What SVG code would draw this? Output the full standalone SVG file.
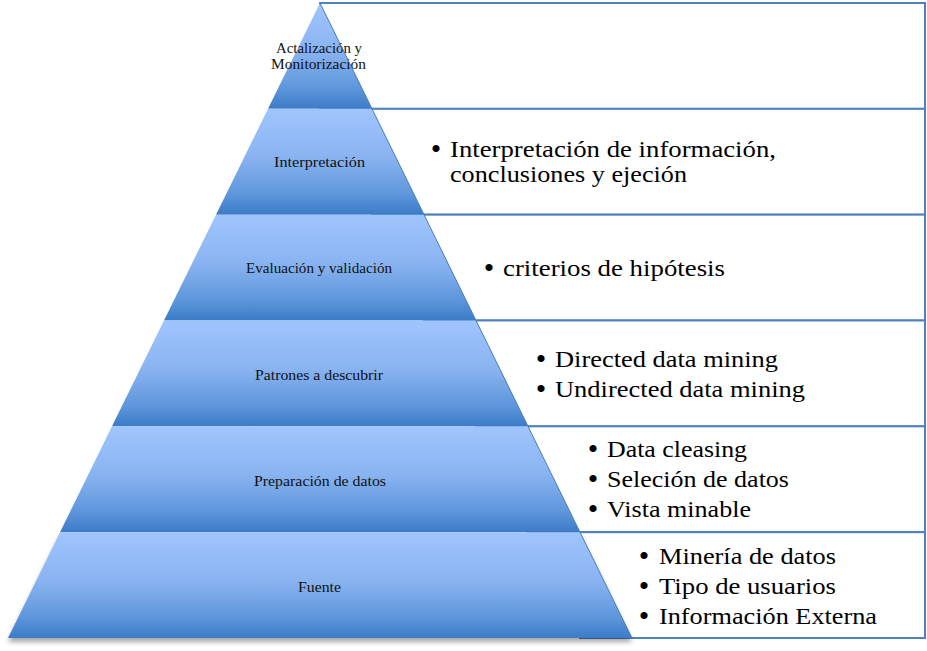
<svg xmlns="http://www.w3.org/2000/svg" width="927" height="651" viewBox="0 0 927 651">
<style>
.box{fill:#fff;stroke:#4f81bd;stroke-width:2}
.band{fill:url(#g)}
.lbl{font-family:"Liberation Serif","DejaVu Serif",serif;font-size:15px;fill:#111}
.txt{font-family:"Liberation Serif","DejaVu Serif",serif;font-size:22.5px;fill:#000}
.bul{font-family:"Liberation Serif","DejaVu Serif",serif;font-size:30px;fill:#000;text-anchor:middle}
</style>
<defs>
<linearGradient id="g" x1="0" y1="0" x2="0" y2="1">
<stop offset="0" stop-color="#a0c5fe"/>
<stop offset="0.45" stop-color="#8ab4f1"/>
<stop offset="0.8" stop-color="#5f97dc"/>
<stop offset="1" stop-color="#3b7bc7"/>
</linearGradient>
<filter id="sh" x="-10%" y="-10%" width="120%" height="130%">
<feDropShadow dx="0" dy="4" stdDeviation="2.5" flood-color="#000" flood-opacity="0.35"/>
</filter>
</defs>
<g id="n1">
<rect class="box" x="320" y="3" width="605" height="105.83"/>
<polygon class="band" points="320,3 372,108.83 268,108.83"/>
<text class="lbl" x="276" y="53" textLength="86" lengthAdjust="spacingAndGlyphs">Actalización y</text>
<text class="lbl" x="271" y="69" textLength="95" lengthAdjust="spacingAndGlyphs">Monitorización</text>
</g>
<g id="n2">
<rect class="box" x="372" y="108.83" width="553" height="105.83"/>
<polygon class="band" points="268,108.83 372,108.83 424,214.67 216,214.67"/>
<text class="lbl" x="274" y="167" textLength="91" lengthAdjust="spacingAndGlyphs">Interpretación</text>
<text class="bul" x="436" y="159">•</text>
<text class="txt" x="450" y="157" textLength="326" lengthAdjust="spacingAndGlyphs">Interpretación de información,</text>
<text class="txt" x="450" y="182" textLength="237" lengthAdjust="spacingAndGlyphs">conclusiones y ejeción</text>
</g>
<g id="n3">
<rect class="box" x="424" y="214.67" width="501" height="105.83"/>
<polygon class="band" points="216,214.67 424,214.67 476,320.5 164,320.5"/>
<text class="lbl" x="246" y="273" textLength="146" lengthAdjust="spacingAndGlyphs">Evaluación y validación</text>
<text class="bul" x="489" y="278">•</text>
<text class="txt" x="503" y="276" textLength="222" lengthAdjust="spacingAndGlyphs">criterios de hipótesis</text>
</g>
<g id="n4">
<rect class="box" x="476" y="320.5" width="449" height="105.83"/>
<polygon class="band" points="164,320.5 476,320.5 528,426.33 112,426.33"/>
<text class="lbl" x="255" y="380" textLength="128" lengthAdjust="spacingAndGlyphs">Patrones a descubrir</text>
<text class="bul" x="541" y="369">•</text>
<text class="txt" x="555" y="367" textLength="223" lengthAdjust="spacingAndGlyphs">Directed data mining</text>
<text class="bul" x="541" y="399">•</text>
<text class="txt" x="555" y="397" textLength="250" lengthAdjust="spacingAndGlyphs">Undirected data mining</text>
</g>
<g id="n5">
<rect class="box" x="528" y="426.33" width="397" height="105.83"/>
<polygon class="band" points="112,426.33 528,426.33 580,532.17 60,532.17"/>
<text class="lbl" x="254" y="486" textLength="132" lengthAdjust="spacingAndGlyphs">Preparación de datos</text>
<text class="bul" x="593" y="459">•</text>
<text class="txt" x="607" y="457" textLength="140" lengthAdjust="spacingAndGlyphs">Data cleasing</text>
<text class="bul" x="593" y="489">•</text>
<text class="txt" x="607" y="487" textLength="182" lengthAdjust="spacingAndGlyphs">Seleción de datos</text>
<text class="bul" x="593" y="519">•</text>
<text class="txt" x="607" y="517" textLength="144" lengthAdjust="spacingAndGlyphs">Vista minable</text>
</g>
<g id="n6">
<rect class="box" x="580" y="532.17" width="345" height="105.83"/>
<polygon class="band" points="60,532.17 580,532.17 632,638 8,638" filter="url(#sh)"/>
<text class="lbl" x="298" y="592" textLength="43" lengthAdjust="spacingAndGlyphs">Fuente</text>
<text class="bul" x="644" y="566">•</text>
<text class="txt" x="659" y="564" textLength="177" lengthAdjust="spacingAndGlyphs">Minería de datos</text>
<text class="bul" x="644" y="596">•</text>
<text class="txt" x="659" y="594" textLength="177" lengthAdjust="spacingAndGlyphs">Tipo de usuarios</text>
<text class="bul" x="644" y="626">•</text>
<text class="txt" x="659" y="624" textLength="218" lengthAdjust="spacingAndGlyphs">Información Externa</text>
</g>
<g id="edge">
<line x1="320" y1="3" x2="632" y2="638" stroke="#4a7ab8" stroke-width="1"/>
</g>
</svg>
